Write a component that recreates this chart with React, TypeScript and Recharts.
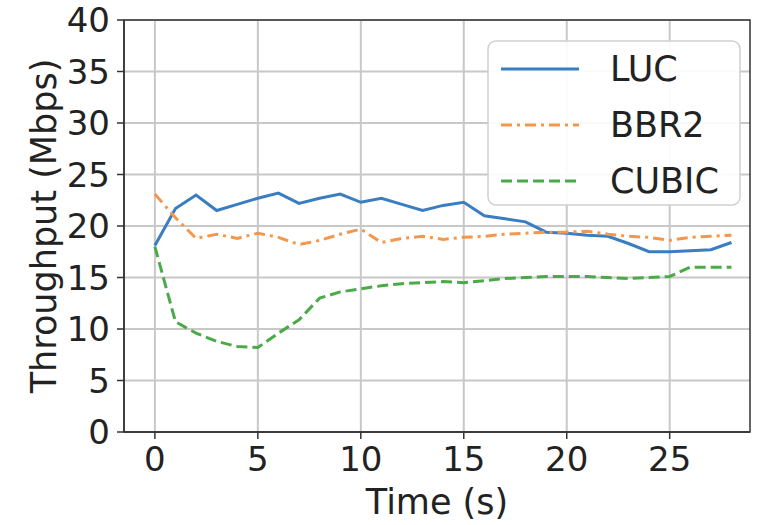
import React from 'react';
import {
  LineChart, Line, XAxis, YAxis, CartesianGrid, ReferenceArea, Label
} from 'recharts';

const time = [0, 1, 2, 3, 4, 5, 6, 7, 8, 9, 10, 11, 12, 13, 14, 15, 16, 17, 18, 19, 20, 21, 22, 23, 24, 25, 26, 27, 28];
const luc = [18.1, 21.7, 23.0, 21.5, 22.1, 22.7, 23.2, 22.2, 22.7, 23.1, 22.3, 22.7, 22.1, 21.5, 22.0, 22.3, 21.0, 20.7, 20.4, 19.4, 19.3, 19.1, 19.0, 18.3, 17.5, 17.5, 17.6, 17.7, 18.4];
const bbr2 = [23.1, 20.8, 18.8, 19.2, 18.8, 19.3, 18.9, 18.2, 18.6, 19.2, 19.7, 18.4, 18.8, 19.0, 18.7, 18.9, 19.0, 19.2, 19.3, 19.4, 19.4, 19.5, 19.2, 19.0, 18.9, 18.6, 18.9, 19.0, 19.1];
const cubic = [18.0, 10.7, 9.6, 8.8, 8.3, 8.2, 9.6, 10.9, 13.0, 13.6, 13.9, 14.2, 14.4, 14.5, 14.6, 14.5, 14.7, 14.9, 15.0, 15.1, 15.1, 15.1, 15.0, 14.9, 15.0, 15.1, 16.0, 16.0, 16.0];

const xTicks = [0, 5, 10, 15, 20, 25];
const yTicks = [0, 5, 10, 15, 20, 25, 30, 35, 40];

const SERIES = [
  { key: 'luc', name: 'LUC', color: '#3a7dc0', dash: undefined },
  { key: 'bbr2', name: 'BBR2', color: '#f5974a', dash: '11 5 3 5' },
  { key: 'cubic', name: 'CUBIC', color: '#4aaa48', dash: '11 5' },
];

const data = time.map((t, i) => ({ t, luc: luc[i], bbr2: bbr2[i], cubic: cubic[i] }));

const FONT = '"DejaVu Sans", sans-serif';
const INK = '#222';

// legend drawn on top of the plot, matplotlib-style box in the upper right
function LegendBox() {
  return (
    <svg width={254} height={166} style={{ position: 'absolute', left: 487, top: 40 }}>
      <rect x={1} y={1} width={252} height={164} rx={8} fill="rgba(255,255,255,0.9)" stroke="#d0d0d0" strokeWidth={1.5} />
      {SERIES.map((s, i) => (
        <g key={s.key}>
          <line x1={14} x2={92} y1={29 + i * 56} y2={29 + i * 56} stroke={s.color} strokeWidth={3} strokeDasharray={s.dash} />
          <text x={123} y={29 + i * 56} dominantBaseline="central" fontSize={35} fontFamily={FONT} fill={INK}>{s.name}</text>
        </g>
      ))}
    </svg>
  );
}

function YTitle(props: any) {
  const vb = props.viewBox || {};
  const cx = 44;
  const cy = vb.y + vb.height / 2;
  return (
    <text x={cx} y={cy} transform={`rotate(-90, ${cx}, ${cy})`} textAnchor="middle" dominantBaseline="central"
      fontSize={35} fontFamily={FONT} fill={INK}>
      Throughput (Mbps)
    </text>
  );
}

export default function App() {
  return (
    <div style={{ position: 'absolute', left: 0, top: 0, width: 765, height: 525, background: '#fff' }}>
      <LineChart width={765} height={525} data={data} margin={{ top: 20, right: 15, left: 24, bottom: 3 }}>
        <CartesianGrid stroke="#c8c8c8" strokeWidth={2} verticalValues={xTicks} horizontalValues={yTicks} />
        <XAxis
          dataKey="t"
          type="number"
          domain={[-1.5, 28.9]}
          ticks={xTicks}
          interval={0}
          allowDataOverflow
          height={90}
          stroke="#333"
          strokeWidth={1.5}
          tickSize={7}
          tickMargin={8}
          tick={{ fontSize: 34, fontFamily: FONT, fill: INK }}
        >
          <Label value="Time (s)" position="insideBottom" offset={8} style={{ fontSize: 35, fontFamily: FONT, fill: INK }} />
        </XAxis>
        <YAxis
          type="number"
          domain={[0, 40]}
          ticks={yTicks}
          interval={0}
          width={100}
          stroke="#333"
          strokeWidth={1.5}
          tickSize={7}
          tickMargin={7}
          tick={{ fontSize: 34, fontFamily: FONT, fill: INK }}
        >
          <Label content={YTitle} />
        </YAxis>
        <ReferenceArea x1={-1.5} x2={28.9} y1={0} y2={40} fill="none" stroke="#333" strokeWidth={1.5} ifOverflow="visible" />
        {SERIES.map((s) => (
          <Line
            key={s.key}
            dataKey={s.key}
            name={s.name}
            type="linear"
            stroke={s.color}
            strokeWidth={3}
            strokeDasharray={s.dash}
            dot={false}
            activeDot={false}
            isAnimationActive={false}
          />
        ))}
      </LineChart>
      <LegendBox />
    </div>
  );
}
